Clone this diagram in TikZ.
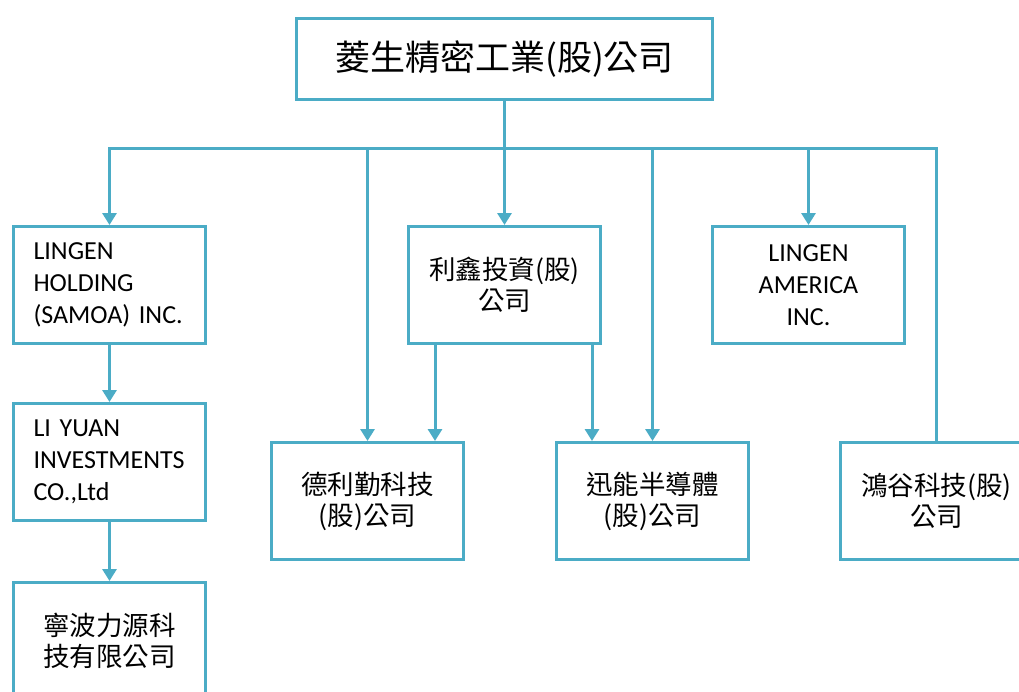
\documentclass[tikz,border=0pt]{standalone}
\usepackage{fontspec}
\setmainfont{Carlito}
\newfontfamily\cjk{Noto Sans CJK TC}
\usetikzlibrary{arrows.meta}
\definecolor{acc}{HTML}{4BACC6}
\begin{document}
\begin{tikzpicture}[x=1pt,y=-1pt,
  box/.style={draw=acc,line width=3pt,minimum width=192pt,minimum height=117pt,inner sep=0pt,anchor=north west,fill=white},
  latl/.style={box,text width=152pt,align=left,font=\fontsize{26}{32}\selectfont},
  latc/.style={box,align=center,font=\fontsize{26}{32}\selectfont},
  cjkc/.style={box,align=center,font=\fontsize{26.5}{31}\selectfont\cjk},
  conn/.style={draw=acc,line width=3pt},
  arr/.style={conn,-{Triangle[width=14pt,length=12pt]}}]
\useasboundingbox (0,0) rectangle (1019,691);
\fill[white] (0,0) rectangle (1019,691);
\node[box,minimum width=416pt,minimum height=81pt,font=\fontsize{35}{40}\selectfont\cjk] (top) at (295,17) {菱生精密工業(股)公司};
\node[latl] (holding) at (12,225) {LINGEN\\HOLDING\\(SAMOA) INC.};
\node[cjkc] (lixin) at (407,225) {利鑫投資(股)\\公司};
\node[latc] (america) at (711,225) {LINGEN\\AMERICA\\INC.};
\node[latl] (liyuan) at (12,402) {LI YUAN\\INVESTMENTS\\CO.,Ltd};
\node[cjkc] (ningbo) at (12,581) {寧波力源科\\技有限公司};
\node[cjkc] (deli) at (270,441) {德利勤科技\\(股)公司};
\node[cjkc] (xun) at (555,441) {迅能半導體\\(股)公司};
\node[cjkc] (hong) at (839,441) {鴻谷科技(股)\\公司};
\coordinate (bus) at (0,148);
\draw[arr] (hong.north) -- (hong.north |- bus) -- (holding.north |- bus) -- (holding.north);
\draw[arr] (top.south) -- (lixin.north);
\draw[arr] (america.north |- bus) -- (america.north);
\draw[arr] (deli.north |- bus) -- (deli.north);
\draw[arr] (xun.north |- bus) -- (xun.north);
\draw[arr] ([xshift=-69.5pt]lixin.south) -- ([xshift=-69.5pt]lixin.south |- deli.north);
\draw[arr] ([xshift=87.5pt]lixin.south) -- ([xshift=87.5pt]lixin.south |- xun.north);
\draw[arr] (holding.south) -- (liyuan.north);
\draw[arr] (liyuan.south) -- (ningbo.north);
\end{tikzpicture}
\end{document}
